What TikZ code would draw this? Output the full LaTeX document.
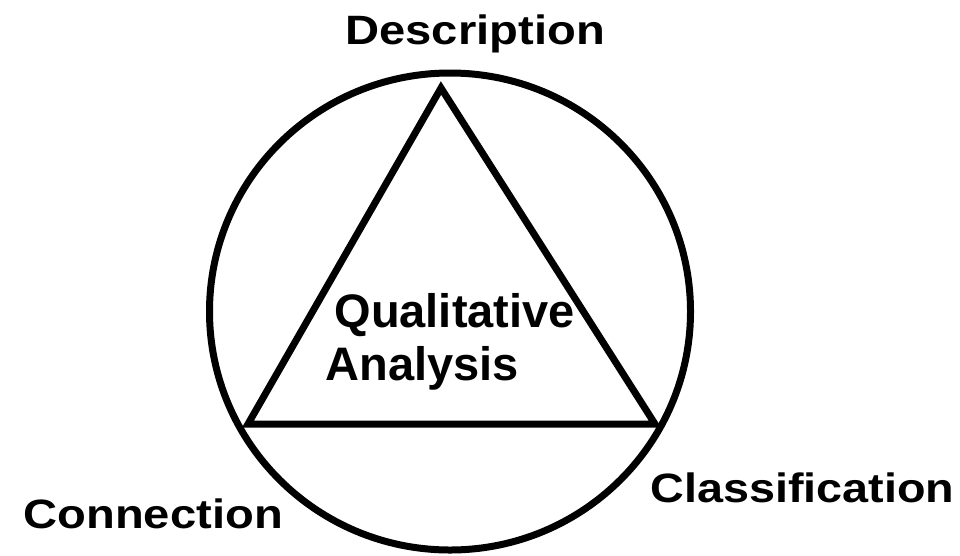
\documentclass[tikz,border=0pt]{standalone}
\usepackage{fontspec}
\setmainfont{Liberation Sans}
\begin{document}
\begin{tikzpicture}[x=1pt,y=-1pt,line width=7pt,
  lbl/.style={anchor=base west,inner sep=0pt,font=\fontsize{41}{48}\selectfont\bfseries},
  ctr/.style={anchor=base west,inner sep=0pt,font=\fontsize{47}{53}\selectfont\bfseries}]
\useasboundingbox (0,0) rectangle (960,555);
\draw (450,311.5) ellipse [x radius=240.5, y radius=238.5];
\coordinate (top) at (441,88);
\coordinate (bl) at (248,424);
\coordinate (br) at (655,424);
\draw[line join=miter] (top) -- (bl) -- (br) -- cycle;
\node[lbl] (desc) at (342,44) {\scalebox{1.15}[1]{Description}};
\node[lbl] (conn) at (20,528) {\scalebox{1.15}[1]{Connection}};
\node[lbl] (clas) at (647,502) {\scalebox{1.14}[1]{Classification}};
\node[ctr] (qual) at (331,327) {Qualitative};
\node[ctr] (anal) at (322,380) {Analysis};
\end{tikzpicture}
\end{document}
